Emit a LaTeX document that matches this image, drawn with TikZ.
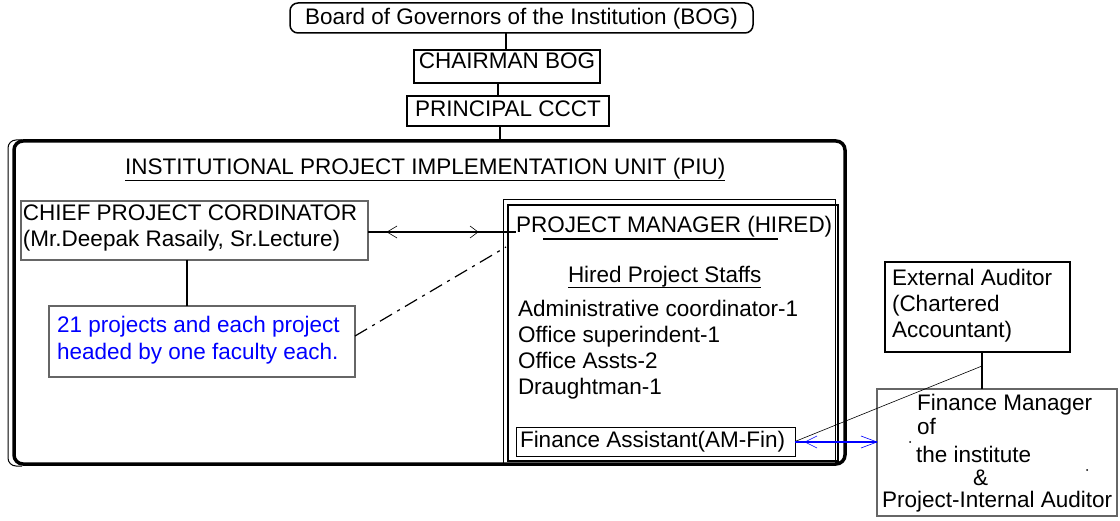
\documentclass[tikz,border=0pt]{standalone}
\usepackage{fontspec}
\setmainfont{Liberation Sans}
\usetikzlibrary{calc}
\definecolor{framegray}{gray}{0.4}
\begin{document}
\begin{tikzpicture}[x=1pt,y=-1pt,
  every node/.style={inner sep=0pt, outer sep=0pt},
  % multi-line texts are placed by the baseline of their last line
  txt/.style={anchor=base west, font=\fontsize{22.5}{26}\selectfont, align=left},
  ctxt/.style={anchor=base, font=\fontsize{22.5}{26}\selectfont},
  boxk/.style={draw, line width=1.5pt, anchor=north west},
  boxg/.style={draw=framegray, line width=1.2pt, anchor=north west},
  conn/.style={line width=1.7pt},
  chev/.style={line width=0.6pt}
]
\useasboundingbox (0,0) rectangle (1120,521);

% ---- governing chain ----
\node[boxk, rounded corners=8pt, minimum width=463pt, minimum height=30pt] (bog) at (290,3) {};
\node[ctxt] (bogt) at ($(bog.north)+(0,22)$) {Board of Governors of the Institution (BOG)};

\node[boxk, minimum width=186pt, minimum height=33pt] (chair) at (414,50) {};
\node[ctxt] (chairt) at ($(chair.north)+(0,19)$) {CHAIRMAN BOG};

\node[boxk, minimum width=202pt, minimum height=30pt] (prin) at (407,96) {};
\node[ctxt] (print) at ($(prin.north)+(0,21)$) {PRINCIPAL CCCT};

% ---- project implementation unit ----
\node[draw, line width=3.5pt, rounded corners=9pt, minimum width=831pt,
      minimum height=323pt, anchor=north west] (piu) at (14,141) {};
\draw[line width=1pt, rounded corners=8pt]
  ($(piu.north west)+(8,-1)$) -- ($(piu.north west)+(-6,-1)$)
  -- ($(piu.south west)+(-6,2)$) -- ($(piu.south west)+(8,2)$);
\node[txt] (piut) at (125,175) {INSTITUTIONAL PROJECT IMPLEMENTATION UNIT (PIU)};
\draw[line width=0.8pt] ($(piut.base west)+(0,5)$) -- ($(piut.base east)+(0,5)$);

\draw[conn] ([xshift=-1pt]chair.north) -- ([xshift=-1pt]chair.north |- bog.south);
\draw[conn] ([xshift=-9pt]chair.south) -- ([xshift=-9pt]chair.south |- prin.north);
\draw[conn] ([xshift=-8pt]prin.south) -- ([xshift=-8pt]prin.south |- piu.north);

% chief coordinator and the projects
\node[boxg, minimum width=347pt, minimum height=59pt] (chief) at (21,201) {};
\node[txt] (chieft) at (23,247) {CHIEF PROJECT CORDINATOR\\(Mr.Deepak Rasaily, Sr.Lecture)};

\node[boxg, minimum width=306pt, minimum height=71pt] (proj) at (49,306) {};
\node[txt, text=blue, font=\fontsize{22.5}{27}\selectfont] (projt) at (57,360)
  {21 projects and each project\\headed by one faculty each.};

\draw[conn] ([xshift=-7.5pt]chief.south) -- ([xshift=-7.5pt]chief.south |- proj.north);

% project manager block
\node[draw, line width=0.8pt, minimum width=332pt, minimum height=264pt, anchor=north west] (pmouter) at (503,199) {};
\node[draw, line width=2pt, minimum width=330pt, minimum height=256pt, anchor=north west] (pminner) at (508,205) {};
\node[txt] (pmt) at (516,233) {PROJECT MANAGER (HIRED)};
\draw[line width=1.4pt] ($(pmt.base west)+(27,6)$) -- ($(pmt.base west)+(262,6)$);

\node[txt] (staff) at (568,283) {Hired Project Staffs};
\draw[line width=0.8pt] ($(staff.base west)+(0,4)$) -- ($(staff.base east)+(0,4)$);
\node[txt] (list) at (518,395) {Administrative coordinator-1\\Office superindent-1\\Office Assts-2\\Draughtman-1};

\node[draw, line width=0.9pt, minimum width=279pt, minimum height=29pt, anchor=north west] (fa) at (516,427) {};
\node[txt] (fat) at (520,448) {Finance Assistant(AM-Fin)};

% coordinator <-> manager link
\coordinate (cpcL) at ($(chief.east)+(0,1.5)$);
\coordinate (cpcR) at (cpcL -| pmt.west);
\draw[conn] (cpcL) -- (cpcR);
\draw[chev] ($(cpcL)+(29,-6)$) -- ($(cpcL)+(19,0)$) -- ($(cpcL)+(29,6)$);
\draw[chev] ($(cpcR)+(-46,-6)$) -- ($(cpcR)+(-38,0)$) -- ($(cpcR)+(-46,6)$);

\draw[line width=1.2pt, dash pattern=on 14pt off 6pt on 3pt off 6pt]
  ($(proj.east)+(0,-5.5)$) -- ($(pmouter.north west)+(3,48)$);

% ---- auditors ----
\node[draw, line width=2pt, minimum width=185pt, minimum height=90pt, anchor=north west] (ea) at (885,262) {};
\node[txt] (eat) at (892,338) {External Auditor\\(Chartered\\Accountant)};

\node[boxg, minimum width=240pt, minimum height=127pt] (fm) at (877,389) {};
\node[txt] (fm1) at (917,410) {Finance Manager};
\node[txt] (fm2) at (917,435) {of};
\node[txt] (fm3) at (916,462) {the institute};
\node[txt] (fm4) at (973,485) {\&};
\node[txt] (fm5) at (882,507) {Project-Internal Auditor};

\coordinate (eab) at ($(ea.south)+(4.5,0)$);
\coordinate (tap) at ($(eab)+(0,14)$);
\draw[conn] (eab) -- (eab |- fm.north);
\draw[line width=0.6pt] (fa.east) -- (tap);

\coordinate (faR) at ($(fa.east)+(0,0.5)$);
\coordinate (fmL) at (faR -| fm.west);
\draw[blue, line width=2pt] (faR) -- (fmL);
\draw[blue, chev] ($(faR)+(22,-6)$) -- ($(faR)+(10,0)$) -- ($(faR)+(22,6)$);
\draw[blue, chev] ($(fmL)+(-16,-6)$) -- (fmL) -- ($(fmL)+(-16,6)$);

\fill (910,442) circle (1);
\fill (1087,470) circle (1);
\end{tikzpicture}
\end{document}
